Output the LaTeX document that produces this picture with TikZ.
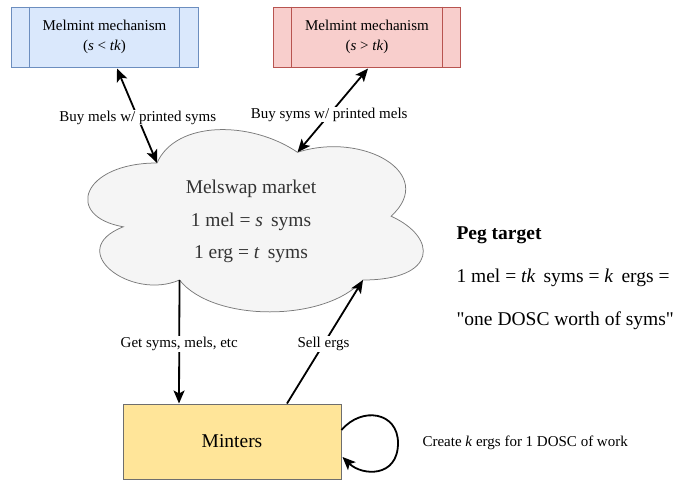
\documentclass[tikz,border=0pt]{standalone}
\usepackage{fontspec}
\setmainfont{Liberation Serif}
\usetikzlibrary{arrows.meta,calc}
\definecolor{bluefill}{HTML}{DAE8FC}
\definecolor{bluedraw}{HTML}{6C8EBF}
\definecolor{redfill}{HTML}{F8CECC}
\definecolor{reddraw}{HTML}{B85450}
\definecolor{yelfill}{HTML}{FFE599}
\definecolor{yeldraw}{HTML}{6E6E6E}
\definecolor{cloudfill}{HTML}{F5F5F5}
\definecolor{clouddraw}{HTML}{7A7A7A}
\definecolor{cloudtext}{HTML}{333333}
\tikzset{
  mechbox/.style={draw, line width=1pt, minimum width=187pt, minimum height=60pt, inner sep=0pt, align=center,
    font=\fontsize{15}{20}\selectfont},
  conn/.style={line width=1.8pt, -{Stealth[length=13pt,width=11pt,inset=3pt]}},
  dconn/.style={line width=1.8pt, {Stealth[length=13pt,width=11pt,inset=3pt]}-{Stealth[length=13pt,width=11pt,inset=3pt]}},
  lbl/.style={fill=white, inner sep=1pt, font=\fontsize{15}{18}\selectfont},
  bigtxt/.style={font=\fontsize{19.5}{24}\selectfont},
}
\begin{document}
\begin{tikzpicture}[x=1pt,y=-1pt]
\useasboundingbox (0,0) rectangle (673,480);
% mechanism boxes
\node[mechbox, fill=bluefill, draw=bluedraw] (blue) at (104.5,37) {Melmint mechanism\\(\textit{s} < \textit{tk})};
\draw[bluedraw, line width=1pt] ($(blue.north west)+(18.7,0)$) -- ($(blue.south west)+(18.7,0)$)
  ($(blue.north east)+(-18.7,0)$) -- ($(blue.south east)+(-18.7,0)$);
\node[mechbox, fill=redfill, draw=reddraw] (red) at (367,37) {Melmint mechanism\\(\textit{s} > \textit{tk})};
\draw[reddraw, line width=1pt] ($(red.north west)+(18.7,0)$) -- ($(red.south west)+(18.7,0)$)
  ($(red.north east)+(-18.7,0)$) -- ($(red.south east)+(-18.7,0)$);
% cloud
\draw[fill=cloudfill, draw=clouddraw, line width=0.75pt]
  (157.0,163.0) .. controls (82.1,163.0) and (63.4,216.2) .. (123.3,226.8)
  .. controls (63.4,250.2) and (130.8,301.2) .. (179.5,280.0)
  .. controls (213.2,322.5) and (325.6,322.5) .. (363.0,280.0)
  .. controls (437.9,280.0) and (437.9,237.4) .. (391.1,216.2)
  .. controls (437.9,173.6) and (363.0,131.1) .. (297.5,152.3)
  .. controls (250.7,120.4) and (175.8,120.4) .. (157.0,163.0) -- cycle;
\coordinate (ctl) at (157.0,163.0);
\coordinate (ctop) at (297.5,152.3);
\coordinate (cbl) at (179.5,280.0);
\coordinate (cbr) at (363.0,280.0);
\node[bigtxt, text=cloudtext] (market) at (251,189) {Melswap market};
\node[bigtxt, text=cloudtext] (rate1) at (251,222) {1 mel = \textit{s} \,syms};
\node[bigtxt, text=cloudtext] (rate2) at (251,254) {1 erg = \textit{t} \,syms};
% minters
\node[draw=yeldraw, fill=yelfill, line width=1pt, minimum width=218pt, minimum height=75pt, bigtxt] (mint) at (232,441.5) {Minters};
% peg target
\node[bigtxt, anchor=west, font=\fontsize{19.5}{24}\selectfont\bfseries] (peg) at (453,235) {Peg target};
\node[bigtxt, anchor=west] (peg1) at (453,278) {1 mel = \textit{tk} \,syms = \textit{k} \,ergs =};
\node[bigtxt, anchor=west] (peg2) at (453,321) {\textquotedbl one DOSC worth of syms\textquotedbl};
% connectors
\draw[dconn] ($(blue.south)+(12.5,1)$) -- (ctl) node[lbl, pos=0.52] (l1) {Buy mels w/ printed syms};
\draw[dconn] ($(red.south)+(1,1)$) -- (ctop) node[lbl, pos=0.55] (l2) {Buy syms w/ printed mels};
\draw[conn] (cbl) -- ($(mint.north)+(-53,0)$) node[lbl, pos=0.52] (l3) {Get syms, mels, etc};
\draw[conn] ($(mint.north)+(55,0)$) -- (cbr) node[lbl, pos=0.48] (l4) {Sell ergs};
\draw[conn] ($(mint.east)+(0,-11.5)$) .. controls (362,406) and (398,412) .. (398,443)
  .. controls (398,478) and (362,476) .. ($(mint.east)+(1,15.5)$);
\node[font=\fontsize{15}{18}\selectfont, anchor=west] (loopl) at (419,443) {Create \textit{k} ergs for 1 DOSC of work};
\end{tikzpicture}
\end{document}
